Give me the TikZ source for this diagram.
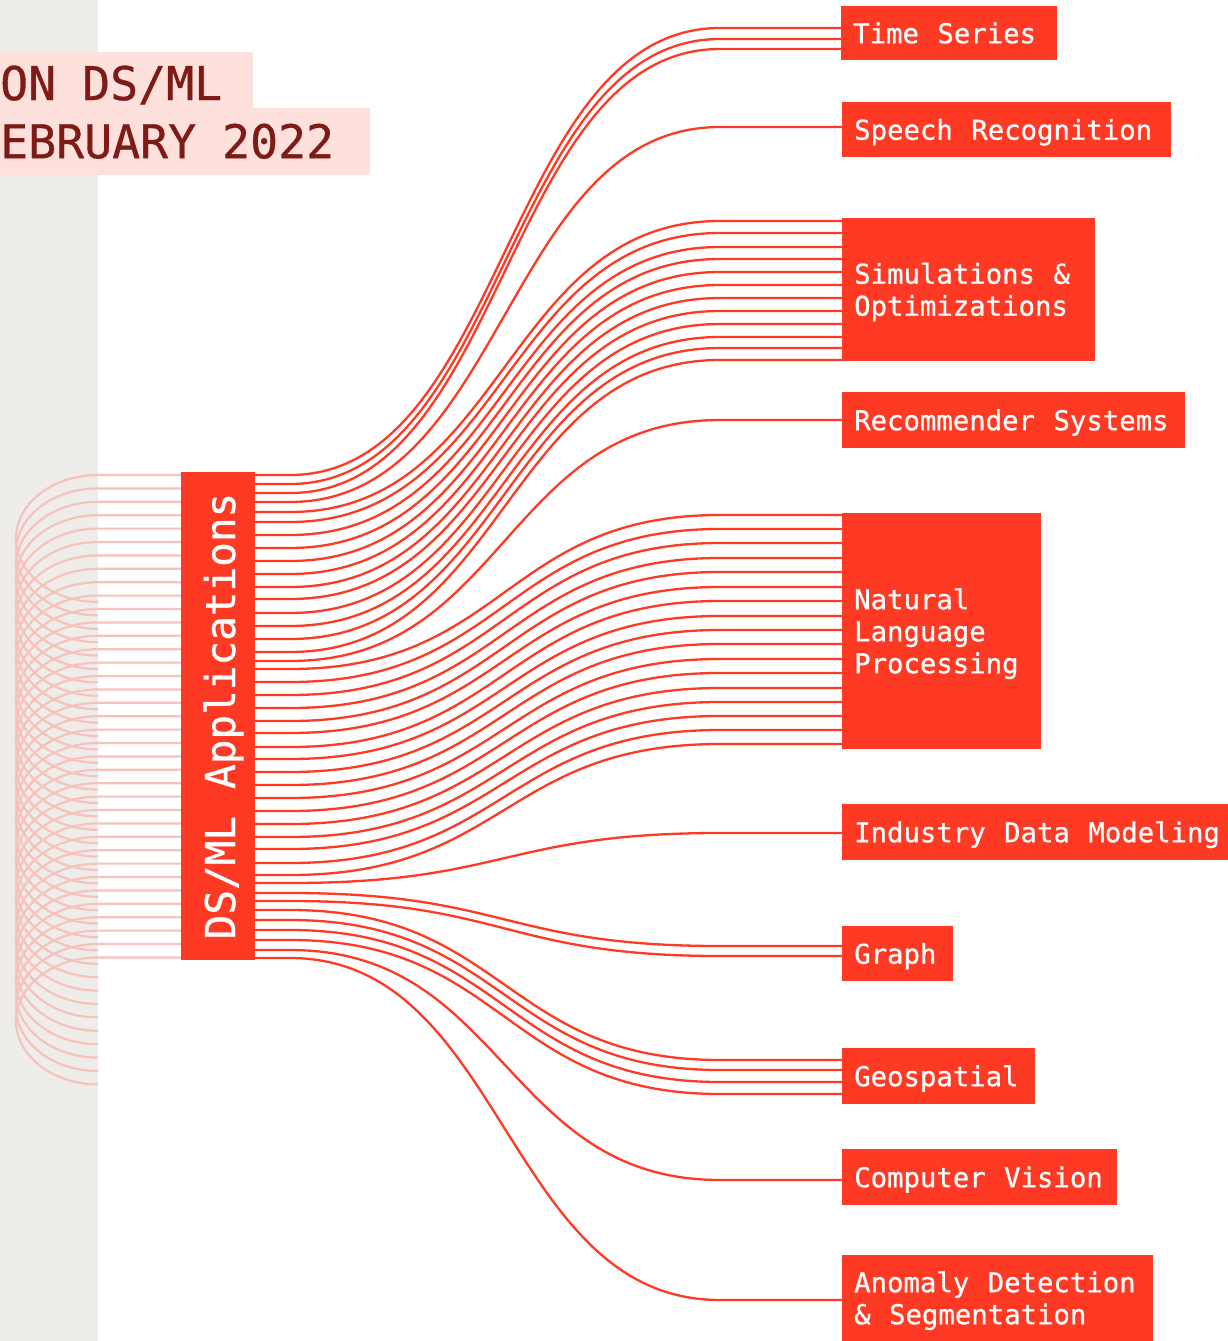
\documentclass[tikz,border=0pt]{standalone}
\usepackage{fontspec}
\newfontfamily\dmono[FakeBold=0.7]{DejaVu Sans Mono}
\definecolor{accent}{HTML}{FF3A24}
\definecolor{ghostline}{HTML}{F7C1BC}
\definecolor{bandgrey}{HTML}{EEEDE9}
\definecolor{titlebg}{HTML}{FEE1DD}
\definecolor{titlefg}{HTML}{7E1B16}
\newcommand\lstrut{\rule[-6pt]{0pt}{32pt}}
\newcommand\tstrut{\rule[-7pt]{0pt}{47pt}}
\newcommand\tstrutA{\rule[0pt]{0pt}{44pt}}
\newcommand\lgap{\hspace*{18.5pt}}
\newcommand\hgap{\hspace*{27pt}}
\newcommand\tgap{\hspace*{26pt}}
\newcommand\lline[1]{\mbox{\lstrut #1}}
\begin{document}
\begin{tikzpicture}[x=1pt,y=-1pt,
  link/.style={draw=accent, line width=2.3pt},
  ghost/.style={draw=ghostline, line width=2.2pt},
  target/.style={anchor=north west, fill=accent, text=white, inner xsep=12pt, inner ysep=0pt,
     align=left, font=\dmono\fontsize{27.3}{32}\selectfont},
  titlebox/.style={anchor=north west, fill=titlebg, text=titlefg, inner xsep=0pt, inner ysep=0pt,
     align=left, font=\dmono\fontsize{46.5}{52}\selectfont},
  hubbox/.style={anchor=north west, fill=accent, inner sep=0pt},
  hubtext/.style={text=white, inner sep=0pt, font=\dmono\fontsize{41}{48}\selectfont}]
\useasboundingbox (0,0) rectangle (1228,1341);
\fill[white] (0,0) rectangle (1228,1341);
\fill[bandgrey] (0,0) rectangle (98,1341);

% title
\node[titlebox, text width=253pt, minimum height=56pt] (title1) at (0,52) {\mbox{\tstrutA ON\tgap DS/ML}};
\node[titlebox, text width=370pt, minimum height=67pt] (title2) at (0,108) {\mbox{\tstrut EBRUARY\tgap 2022}};

% left looping lines
\foreach \k in {0,...,36}{
  \pgfmathsetmacro\ya{475+13.4*\k}
  \pgfmathsetmacro\yb{\ya+127}
  \coordinate (ls\k) at (181,\ya);
  \coordinate (lr\k) at (98,\yb);
  \draw[ghost] (ls\k) -- (98,\ya) .. controls (52.7,\ya) and (16,\ya+28.43) .. (16,\ya+63.5)
     .. controls (16,\ya+98.57) and (52.7,\yb) .. (lr\k);
}

% right links
\foreach \a/\b [count=\i] in {475/28, 484/39, 493/49, 502/127,
  512/221, 522/233, 535/247, 548/259, 561/272, 574/285, 587/298, 599/311, 613/324, 626/337, 639/348, 652/360,
  661/420,
  669/515, 682/529, 695/543, 708/558, 721/572, 733/587, 747/601, 759/616, 772/630, 785/644, 798/659, 811/673, 824/688, 837/702, 849/716, 863/730, 875/744,
  883/833, 893/946, 901/956, 910/1060, 920/1070, 930/1082, 940/1094, 950/1180, 958/1300}{
  \coordinate (s\i) at (255,\a);
  \coordinate (e\i) at (842,\b);
  \draw[link] (s\i) -- (290,\a) .. controls (505,\a) and (505,\b) .. (720,\b) -- (e\i);
}

% hub
\node[hubbox, minimum width=74pt, minimum height=488pt] (hub) at (181,472) {};
\node[hubtext, rotate=90, anchor=base] (hublabel) at (235,716) {DS/ML\hgap Applications};

% targets
\node[target, text width=192pt, minimum height=54pt] (ts) at (841,6) {\lline{Time\lgap Series}};
\node[target, text width=305pt, minimum height=55pt] (sr) at (842,102) {\lline{Speech\lgap Recognition}};
\node[target, text width=229pt, minimum height=143pt] (so) at (842,218) {\lline{Simulations\lgap\&}\\\lline{Optimizations}};
\node[target, text width=319pt, minimum height=56pt] (rs) at (842,392) {\lline{Recommender\lgap Systems}};
\node[target, text width=175pt, minimum height=236pt] (nlp) at (842,513) {\lline{Natural}\\\lline{Language}\\\lline{Processing}};
\node[target, text width=390pt, minimum height=56pt] (idm) at (842,804) {\lline{Industry\lgap Data\lgap Modeling}};
\node[target, text width=87pt, minimum height=55pt] (gr) at (842,926) {\lline{Graph}};
\node[target, text width=169pt, minimum height=56pt] (geo) at (842,1048) {\lline{Geospatial}};
\node[target, text width=251pt, minimum height=56pt] (cv) at (842,1149) {\lline{Computer\lgap Vision}};
\node[target, text width=287pt, minimum height=86pt] (ad) at (842,1255) {\lline{Anomaly\lgap Detection}\\\lline{\&\lgap Segmentation}};
\end{tikzpicture}
\end{document}
